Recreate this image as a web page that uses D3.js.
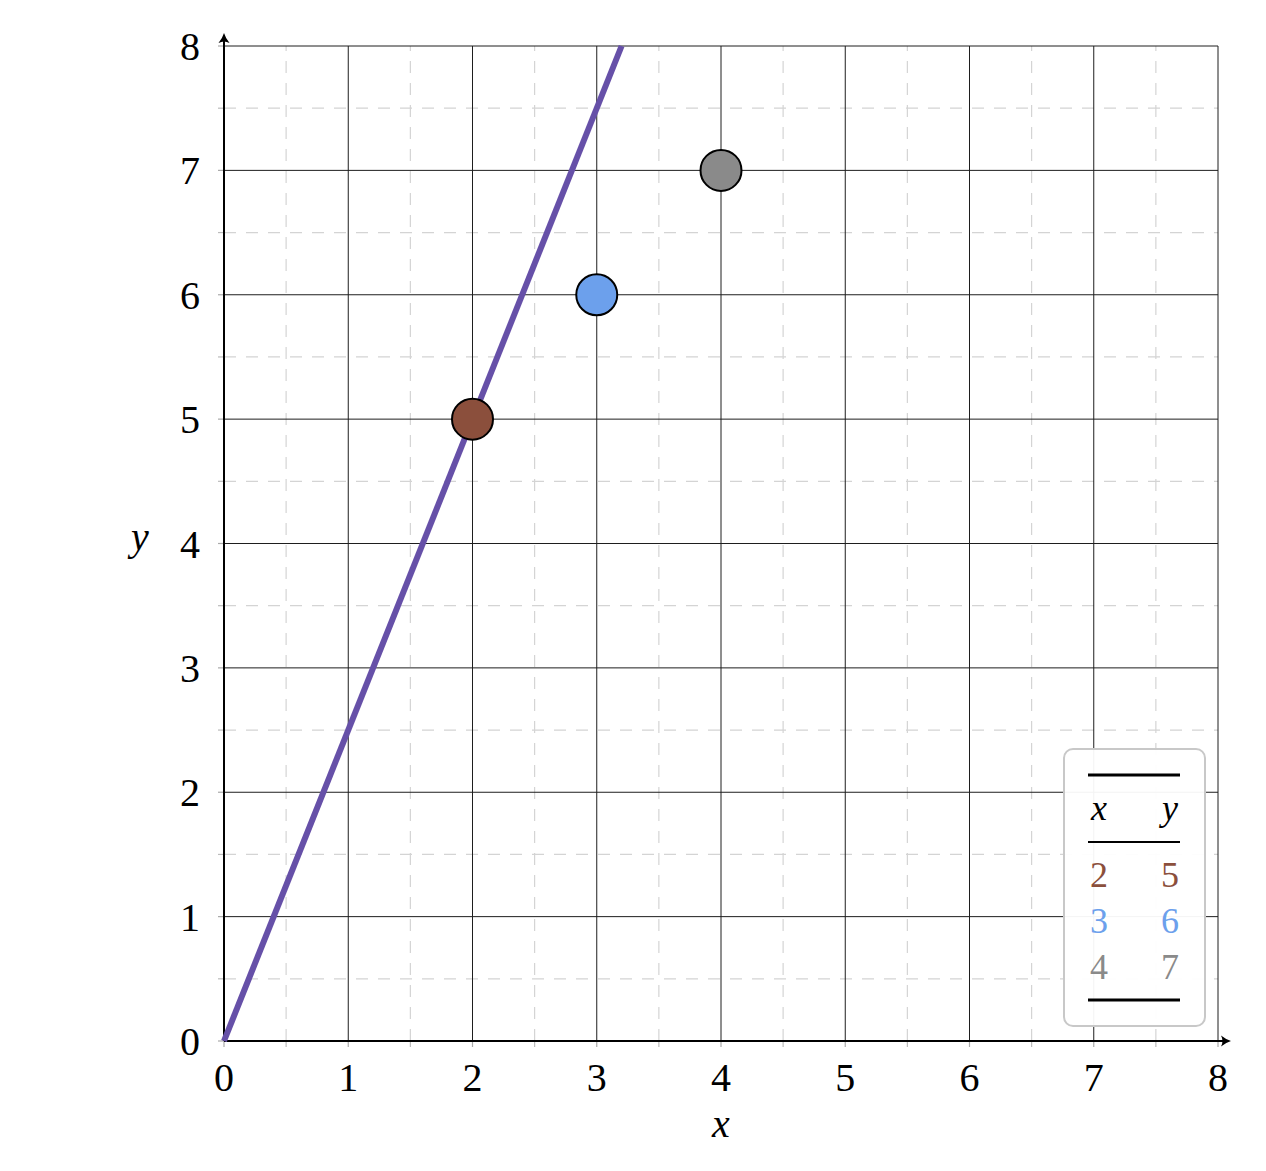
<!DOCTYPE html>
<html>
<head>
<meta charset="utf-8">
<script src="https://cdnjs.cloudflare.com/ajax/libs/d3/7.8.5/d3.min.js"></script>
<style>
  body { margin: 0; background: #fff; }
  svg text { font-family: "Liberation Serif", "Times New Roman", serif; }
</style>
</head>
<body>
<svg id="chart" width="1266" height="1171"></svg>
<script>
// data
var xs = [2, 3, 4],
	ys = [5, 6, 7],
	dotColors = ["#8b4f3c", "#6ca0ec", "#8a8a8a"];
var slope = 2.5;             // line y = 2.5 x
var ticks = [0, 1, 2, 3, 4, 5, 6, 7, 8];
var minorTicks = [0.5, 1.5, 2.5, 3.5, 4.5, 5.5, 6.5, 7.5];

var svg = d3.select("#chart");

var x = d3.scaleLinear().domain([0, 8]).range([224, 1218]);
var y = d3.scaleLinear().domain([0, 8]).range([1041, 46]);

// minor dashed grid
var minor = svg.append("g");
minorTicks.forEach(function(t) {
	minor.append("line")
		.attr("x1", x(t)).attr("x2", x(t))
		.attr("y1", y(0)).attr("y2", y(8))
		.attr("stroke", "#d4d4d4").attr("stroke-width", 1.2)
		.attr("stroke-dasharray", "12,10");
	minor.append("line")
		.attr("x1", x(0)).attr("x2", x(8))
		.attr("y1", y(t)).attr("y2", y(t))
		.attr("stroke", "#d4d4d4").attr("stroke-width", 1.2)
		.attr("stroke-dasharray", "12,10");
	// little tick marks outside axes
	minor.append("line")
		.attr("x1", x(0) - 6).attr("x2", x(0))
		.attr("y1", y(t)).attr("y2", y(t))
		.attr("stroke", "#bbb").attr("stroke-width", 1.2);
	minor.append("line")
		.attr("x1", x(t)).attr("x2", x(t))
		.attr("y1", y(0)).attr("y2", y(0) + 6)
		.attr("stroke", "#bbb").attr("stroke-width", 1.2);
});

// major grid
var major = svg.append("g");
ticks.forEach(function(t) {
	major.append("line")
		.attr("x1", x(t)).attr("x2", x(t))
		.attr("y1", y(0)).attr("y2", y(8))
		.attr("stroke", "#1e1e1e").attr("stroke-width", 1);
	major.append("line")
		.attr("x1", x(0)).attr("x2", x(8))
		.attr("y1", y(t)).attr("y2", y(t))
		.attr("stroke", "#1e1e1e").attr("stroke-width", 1);
	major.append("line")
		.attr("x1", x(0) - 6).attr("x2", x(0))
		.attr("y1", y(t)).attr("y2", y(t))
		.attr("stroke", "#aaa").attr("stroke-width", 1.2);
	major.append("line")
		.attr("x1", x(t)).attr("x2", x(t))
		.attr("y1", y(0)).attr("y2", y(0) + 6)
		.attr("stroke", "#aaa").attr("stroke-width", 1.2);
});

// axes with arrows (heads drawn as paths)
svg.append("line")
	.attr("x1", x(0)).attr("x2", 1226)
	.attr("y1", y(0)).attr("y2", y(0))
	.attr("stroke", "#000").attr("stroke-width", 2);
svg.append("line")
	.attr("x1", x(0)).attr("x2", x(0))
	.attr("y1", y(0)).attr("y2", 38)
	.attr("stroke", "#000").attr("stroke-width", 2);

// head pointing right, tip at origin
var head = "M0,0 Q-5,-1.5 -10,-5.5 Q-7,0 -10,5.5 Q-5,1.5 0,0 Z";
svg.append("path")
	.attr("d", head)
	.attr("transform", "translate(1231," + y(0) + ")")
	.attr("fill", "#000");
svg.append("path")
	.attr("d", head)
	.attr("transform", "translate(" + x(0) + ",33) rotate(-90)")
	.attr("fill", "#000");

// tick labels
var labels = svg.append("g").attr("font-size", 40).attr("fill", "#000");
ticks.forEach(function(t) {
	labels.append("text")
		.attr("x", x(t)).attr("y", y(0) + 50)
		.attr("text-anchor", "middle")
		.text(t);
	labels.append("text")
		.attr("x", x(0) - 24).attr("y", y(t) + 14)
		.attr("text-anchor", "end")
		.text(t);
});

svg.append("text")
	.attr("x", x(4)).attr("y", 1137)
	.attr("text-anchor", "middle")
	.attr("font-size", 40).attr("font-style", "italic")
	.text("x");
svg.append("text")
	.attr("x", 140).attr("y", y(4) + 6)
	.attr("text-anchor", "middle")
	.attr("font-size", 40).attr("font-style", "italic")
	.text("y");

// line y = slope * x, clipped to the plot
var xEnd = 8 / slope;
svg.append("path")
	.datum([[0, 0], [xEnd, slope * xEnd]])
	.attr("d", d3.line().x(function(d) { return x(d[0]); }).y(function(d) { return y(d[1]); }))
	.attr("stroke", "#6650a8").attr("stroke-width", 6)
	.attr("fill", "none");

// points
svg.append("g").selectAll("circle")
	.data(xs)
	.enter().append("circle")
	.attr("cx", function(d) { return x(d); })
	.attr("cy", function(d, i) { return y(ys[i]); })
	.attr("r", 20.5)
	.attr("fill", function(d, i) { return dotColors[i]; })
	.attr("stroke", "#000").attr("stroke-width", 2);

// table legend
var leg = svg.append("g");
leg.append("rect")
	.attr("x", 1064).attr("y", 749)
	.attr("width", 141).attr("height", 277)
	.attr("rx", 9).attr("ry", 9)
	.attr("fill", "#fff").attr("fill-opacity", 0.95)
	.attr("stroke", "#c8c8c8").attr("stroke-width", 2);

leg.append("line").attr("x1", 1088).attr("x2", 1180).attr("y1", 775).attr("y2", 775)
	.attr("stroke", "#000").attr("stroke-width", 3);
leg.append("line").attr("x1", 1088).attr("x2", 1180).attr("y1", 842).attr("y2", 842)
	.attr("stroke", "#000").attr("stroke-width", 2);
leg.append("line").attr("x1", 1088).attr("x2", 1180).attr("y1", 1000).attr("y2", 1000)
	.attr("stroke", "#000").attr("stroke-width", 3);

leg.append("text").attr("x", 1099).attr("y", 820)
	.attr("text-anchor", "middle").attr("font-size", 36).attr("font-style", "italic").text("x");
leg.append("text").attr("x", 1170).attr("y", 820)
	.attr("text-anchor", "middle").attr("font-size", 36).attr("font-style", "italic").text("y");

xs.forEach(function(v, i) {
	var ty = 887 + i * 46;
	leg.append("text").attr("x", 1099).attr("y", ty)
		.attr("text-anchor", "middle").attr("font-size", 36)
		.attr("fill", dotColors[i]).text(v);
	leg.append("text").attr("x", 1170).attr("y", ty)
		.attr("text-anchor", "middle").attr("font-size", 36)
		.attr("fill", dotColors[i]).text(ys[i]);
});
</script>
</body>
</html>
